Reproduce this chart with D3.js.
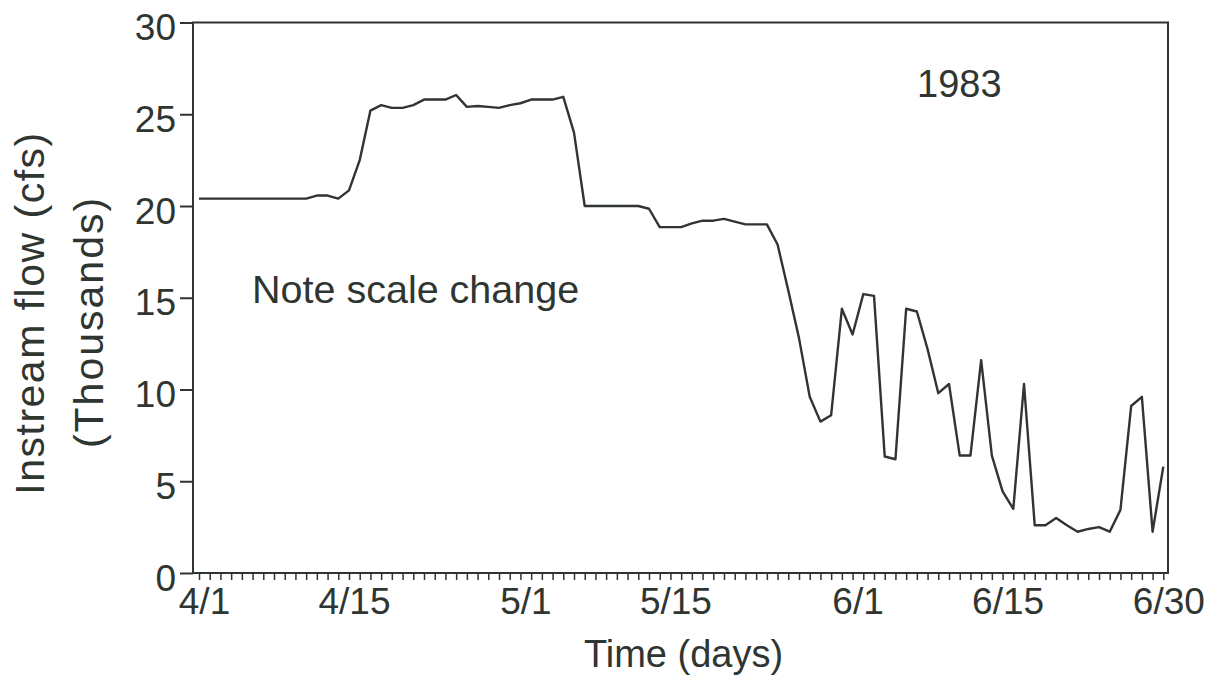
<!DOCTYPE html>
<html>
<head>
<meta charset="utf-8">
<script src="https://cdn.jsdelivr.net/npm/d3@7"></script>
<style>
  html, body { margin: 0; padding: 0; background: #fff; }
  svg { display: block; }
  text { font-family: "Liberation Sans", Arial, Helvetica, sans-serif; fill: #2f3531; }
</style>
</head>
<body>
<svg id="chart" width="1218" height="677"></svg>
<script>
// Daily instream flow, 1 April – 30 June 1983, thousands of cfs
const dayIndex = d3.range(0, 91); // 0 = 4/1 ... 90 = 6/30
const flow = [
  20.4, 20.4, 20.4, 20.4, 20.4, 20.4, 20.4, 20.4, 20.4, 20.4,
  20.4, 20.57, 20.57, 20.4, 20.85, 22.5, 25.2, 25.5, 25.35, 25.35,
  25.5, 25.8, 25.8, 25.8, 26.05, 25.4, 25.45, 25.4, 25.35, 25.5,
  25.6, 25.8, 25.8, 25.8, 25.95, 24.0, 20.0, 20.0, 20.0, 20.0,
  20.0, 20.0, 19.85, 18.85, 18.85, 18.85, 19.05, 19.2, 19.2, 19.3,
  19.15, 19.0, 19.0, 19.0, 17.9, 15.4, 12.8, 9.6, 8.25, 8.6,
  14.4, 13.0, 15.2, 15.1, 6.35, 6.2, 14.4, 14.25, 12.2, 9.8,
  10.3, 6.4, 6.4, 11.6, 6.4, 4.45, 3.5, 10.3, 2.6, 2.6,
  3.0, 2.6, 2.25, 2.4, 2.5, 2.25, 3.44, 9.1, 9.6, 2.25,
  5.8
];

// Labelled dates on the time axis
const labelDays = [0, 14, 30, 44, 61, 75, 90];
const labelText = ["4/1", "4/15", "5/1", "5/15", "6/1", "6/15", "6/30"];
const yTicks = [0, 5, 10, 15, 20, 25, 30];

const ink = "#2f3531";
const svg = d3.select("#chart");

const x = d3.scaleLinear().domain([0, 90]).range([199, 1163.3]);
const y = d3.scaleLinear().domain([0, 30]).range([573, 22.5]);

const frameL = 193, frameR = 1168;

// plot frame
svg.append("rect")
  .attr("x", frameL).attr("y", y(30))
  .attr("width", frameR - frameL).attr("height", y(0) - y(30))
  .attr("fill", "none").attr("stroke", ink).attr("stroke-width", 2);

// daily minor ticks along the time axis
const xMinor = svg.append("g")
  .attr("transform", `translate(0,${y(0)})`)
  .call(d3.axisBottom(x).tickValues(dayIndex).tickSize(7).tickFormat(""));
xMinor.select(".domain").remove();
xMinor.selectAll("line").attr("stroke", ink).attr("stroke-width", 1.5);

// date labels
const xLab = svg.append("g")
  .attr("transform", `translate(5,${y(0)})`)
  .call(d3.axisBottom(x).tickValues(labelDays).tickSize(0).tickPadding(15)
    .tickFormat((d, i) => labelText[i]));
xLab.select(".domain").remove();
xLab.selectAll("text")
  .attr("font-size", 37)
  .attr("fill", ink)
  .style("font-family", "'Liberation Sans', Arial, sans-serif");

// value axis
const yAx = svg.append("g")
  .attr("transform", `translate(${frameL},0)`)
  .call(d3.axisLeft(y).tickValues(yTicks).tickSize(13).tickPadding(4));
yAx.select(".domain").remove();
yAx.selectAll("line").attr("stroke", ink).attr("stroke-width", 2);
yAx.selectAll("text")
  .attr("font-size", 37)
  .attr("dy", "0.46em")
  .attr("fill", ink)
  .style("font-family", "'Liberation Sans', Arial, sans-serif");

// flow line
const line = d3.line()
  .x((d, i) => x(dayIndex[i]))
  .y(d => y(d));
svg.append("path")
  .datum(flow)
  .attr("d", line)
  .attr("fill", "none")
  .attr("stroke", ink)
  .attr("stroke-width", 2.4)
  .attr("stroke-linejoin", "round");

// annotations
svg.append("text")
  .attr("x", 917).attr("y", 97)
  .attr("font-size", 38)
  .text("1983");

svg.append("text")
  .attr("x", 252).attr("y", 303)
  .attr("font-size", 39.5)
  .text("Note scale change");

// axis titles
svg.append("text")
  .attr("x", (frameL + frameR) / 2 + 3).attr("y", 667)
  .attr("text-anchor", "middle")
  .attr("font-size", 38)
  .text("Time (days)");

svg.append("text")
  .attr("transform", "translate(44,313) rotate(-90)")
  .attr("text-anchor", "middle")
  .attr("font-size", 41)
  .attr("letter-spacing", 1.5)
  .text("Instream flow (cfs)");

svg.append("text")
  .attr("transform", "translate(103,322) rotate(-90)")
  .attr("text-anchor", "middle")
  .attr("font-size", 41)
  .attr("letter-spacing", 2)
  .text("(Thousands)");
</script>
</body>
</html>
